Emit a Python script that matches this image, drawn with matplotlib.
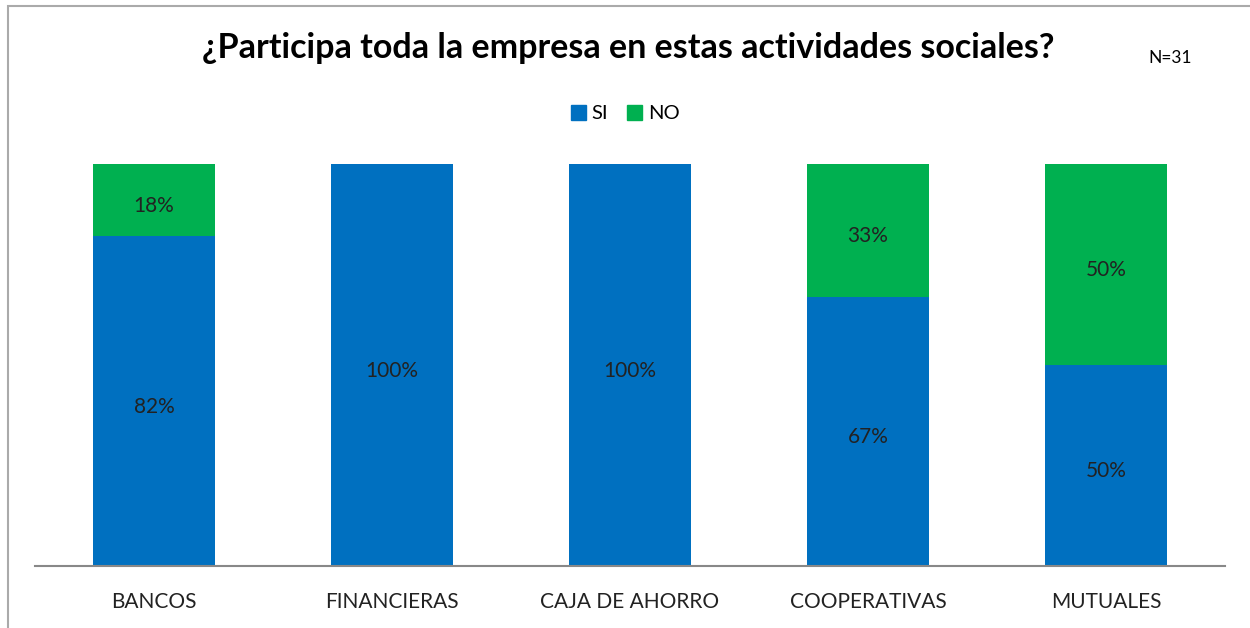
import matplotlib
matplotlib.use("Agg")
from matplotlib import pyplot as plt
from matplotlib.patches import Rectangle, Patch

categories = ["BANCOS", "FINANCIERAS", "CAJA DE AHORRO", "COOPERATIVAS", "MUTUALES"]
si = [82, 100, 100, 67, 50]
no = [18, 0, 0, 33, 50]

blue = "#0070C0"
green = "#00B050"

plt.rcParams['font.family'] = ['Lato', 'DejaVu Sans']

fig = plt.figure(figsize=(12.5, 6.28), dpi=100)
ax = fig.add_axes([0.028, 0.0987, 0.952, 0.6402])

x = list(range(len(categories)))
ax.bar(x, si, width=0.513, color=blue, label="SI")
ax.bar(x, no, width=0.513, bottom=si, color=green, label="NO")

# percent labels centred in each segment (nudged down a little, like Excel)
for i in x:
    if si[i] > 0:
        ax.annotate(f"{si[i]}%", (i, si[i] / 2), xytext=(0, -4), textcoords="offset points",
                    ha="center", va="center", fontsize=15, color="#222222")
    if no[i] > 0:
        ax.annotate(f"{no[i]}%", (i, si[i] + no[i] / 2), xytext=(0, -4), textcoords="offset points",
                    ha="center", va="center", fontsize=15, color="#222222")

ax.set_xlim(-0.5, 4.5)
ax.set_ylim(0, 100)
ax.set_yticks([])
ax.set_xticks(x)
ax.set_xticklabels(categories, fontsize=15, color="#222222")
ax.tick_params(axis="x", length=0, pad=19)
for s in ["top", "right", "left"]:
    ax.spines[s].set_visible(False)
ax.spines["bottom"].set_color("#888888")
ax.spines["bottom"].set_linewidth(1.5)

fig.text(0.503, 0.924, "¿Participa toda la empresa en estas actividades sociales?",
         ha="center", va="center", fontsize=24.5, fontweight="bold")
fig.text(0.936, 0.907, "N=31", ha="center", va="center", fontsize=12.5)

handles = [Patch(color=blue, label="SI"), Patch(color=green, label="NO")]
fig.legend(handles=handles, loc="center", bbox_to_anchor=(0.5, 0.819), ncol=2, frameon=False,
           fontsize=14.5, handlelength=0.75, handleheight=0.75, handletextpad=0.3, columnspacing=0.9)

# chart border (only top and left edges fall inside the picture)
fig.patches.append(Rectangle((0.0064, -0.1), 1.2, 1.09, transform=fig.transFigure,
                             fill=False, edgecolor="#aaaaaa", linewidth=1.5))

fig.savefig("out.png", dpi=100)
